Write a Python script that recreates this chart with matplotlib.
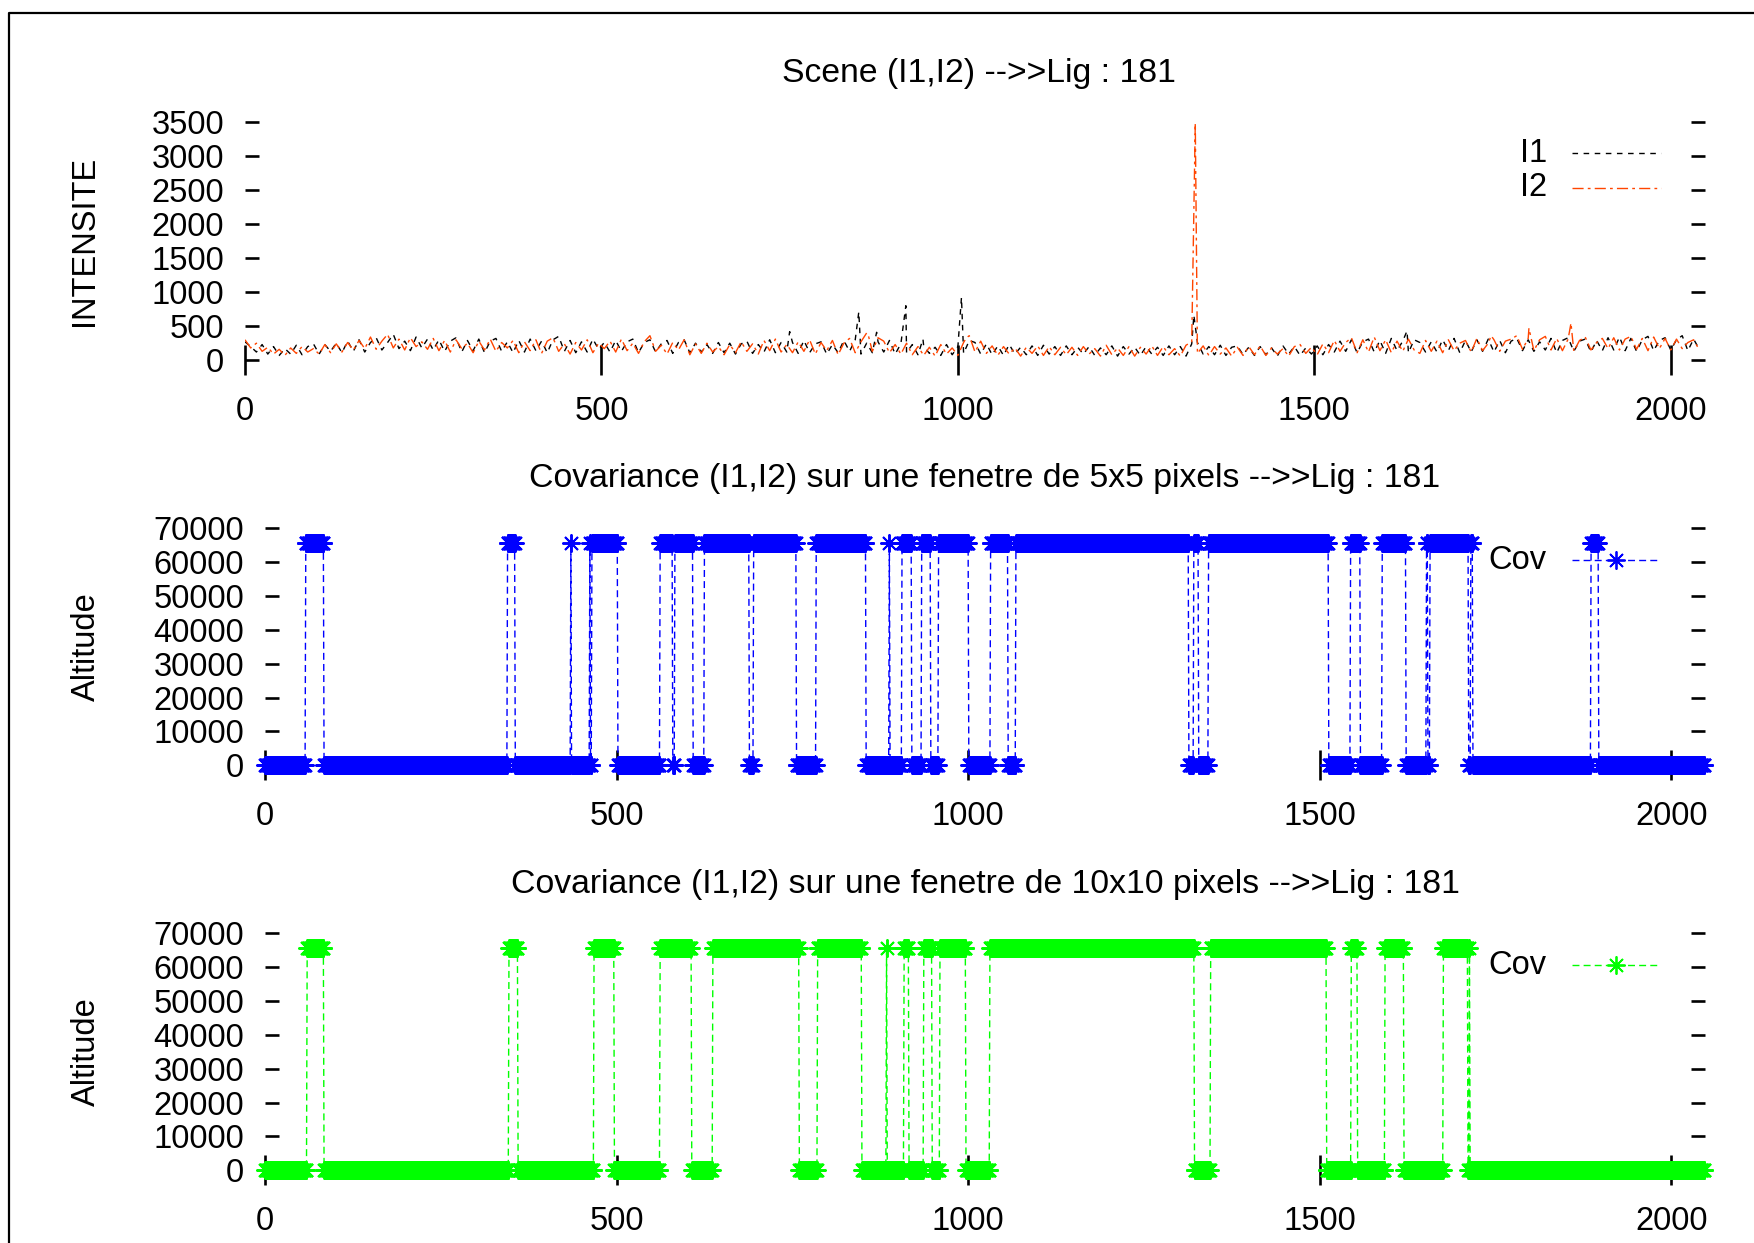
"""Scene line 181: intensity profiles and window covariance (gnuplot style)."""

import matplotlib
matplotlib.use('Agg')
import matplotlib.pyplot as plt
from matplotlib.lines import Line2D
import numpy as np

# ── Figure size in pixels (dpi 100) ──
W_PX, H_PX = 1754, 1243

# ── Data ──
# intensity profiles, one value every X_STEP columns
X_STEP = 8
I1_BASE = [
    270, 200, 120, 230, 90, 200, 70, 170, 90, 220, 80, 200, 240, 90, 230, 130,
    250, 110, 280, 130, 300, 120, 260, 330, 150, 260, 380, 170, 280, 140, 340, 180,
    310, 150, 300, 130, 280, 330, 120, 290, 140, 310, 110, 280, 320, 130, 270, 110,
    290, 120, 310, 140, 280, 110, 300, 350, 130, 290, 110, 270, 120, 310, 160, 260,
    120, 290, 130, 270, 310, 110, 260, 300, 120, 240, 290, 100, 260, 300, 110, 250,
    120, 230, 100, 260, 110, 250, 90, 240, 280, 100, 230, 120, 300, 110, 260, 120,
    260, 100, 290, 110, 240, 270, 90, 230, 110, 290, 130, 300, 90, 250, 110, 270,
    120, 290, 90, 240, 110, 230, 80, 210, 100, 190, 70, 230, 80, 200, 100, 290,
    260, 90, 240, 80, 210, 70, 230, 90, 190, 80, 210, 70, 220, 90, 200, 70,
    210, 80, 190, 90, 200, 70, 180, 80, 210, 60, 200, 90, 190, 70, 200, 90,
    190, 70, 210, 80, 200, 60, 240, 260, 90, 200, 80, 220, 70, 190, 210, 80,
    190, 70, 200, 80, 180, 60, 210, 90, 200, 70, 180, 90, 210, 80, 230, 120,
    280, 130, 300, 110, 270, 310, 120, 290, 100, 320, 140, 280, 110, 300, 260, 120,
    270, 120, 300, 140, 320, 110, 290, 120, 300, 130, 310, 120, 290, 110, 280, 320,
    140, 300, 130, 270, 150, 320, 110, 290, 330, 130, 280, 310, 120, 290, 140, 330,
    150, 340, 140, 320, 130, 300, 350, 140, 290, 330, 150, 300, 360, 140, 310, 160,
]
I2_BASE = [
    300, 180, 250, 130, 190, 90, 160, 70, 180, 100, 200, 120, 170, 90, 230, 110,
    240, 120, 260, 150, 290, 170, 340, 160, 280, 380, 180, 310, 150, 330, 200, 270,
    160, 320, 140, 290, 120, 300, 170, 250, 110, 280, 150, 310, 130, 260, 180, 290,
    110, 270, 140, 300, 100, 280, 330, 130, 240, 90, 260, 150, 300, 110, 250, 170,
    280, 120, 310, 140, 250, 100, 270, 360, 130, 220, 90, 260, 150, 300, 80, 240,
    100, 250, 120, 200, 80, 230, 110, 270, 130, 240, 90, 290, 140, 310, 120, 230,
    110, 270, 130, 300, 90, 260, 140, 290, 80, 250, 320, 110, 270, 400, 130, 330,
    280, 110, 230, 90, 250, 80, 200, 70, 190, 60, 230, 90, 180, 70, 260, 360,
    120, 280, 100, 210, 70, 200, 90, 180, 60, 190, 100, 210, 70, 200, 80, 190,
    80, 190, 70, 200, 90, 170, 60, 220, 80, 180, 70, 200, 60, 190, 90, 210,
    70, 200, 80, 170, 60, 220, 270, 100, 210, 70, 200, 90, 180, 60, 190, 70,
    200, 80, 210, 70, 180, 90, 170, 60, 200, 230, 100, 190, 80, 240, 110, 290,
    130, 260, 330, 110, 300, 120, 340, 140, 300, 110, 280, 130, 310, 150, 100, 290,
    130, 280, 110, 300, 140, 250, 290, 120, 320, 140, 250, 300, 130, 280, 310, 360,
    160, 320, 140, 300, 350, 150, 320, 140, 310, 130, 290, 340, 150, 260, 320, 170,
    330, 150, 310, 350, 160, 320, 140, 340, 170, 320, 150, 310, 170, 260, 300, 150,
]
# isolated peaks (column, value)
I1_PEAK_X = [764, 861, 886, 927, 951, 1005, 1331, 1630]
I1_PEAK_V = [420, 710, 410, 800, 310, 920, 660, 430]
I2_PEAK_X = [874, 1012, 1333, 1748, 1801, 1860]
I2_PEAK_V = [380, 330, 3480, 360, 470, 545]

# covariance: columns where the value is high (start, end), 0 elsewhere
N_COLS = 2048
COV_HIGH = 65535
COV5_HIGH = [(58, 84), (345, 356), (435, 436), (462, 463), (465, 502),
             (562, 580), (583, 609), (625, 689), (695, 756), (784, 855),
             (888, 889), (906, 920), (934, 947), (958, 1001), (1032, 1057),
             (1068, 1314), (1321, 1328), (1342, 1513), (1544, 1558),
             (1589, 1623), (1652, 1654), (1657, 1712), (1715, 1718),
             (1886, 1897)]
COV10_HIGH = [(60, 84), (347, 360), (468, 497), (562, 607), (637, 760),
              (786, 849), (884, 885), (909, 916), (937, 949), (960, 997),
              (1031, 1322), (1345, 1510), (1545, 1554), (1593, 1620),
              (1676, 1711), (1713, 1714)]

TITLE_1 = 'Scene (I1,I2) -->>Lig : 181'
TITLE_2 = 'Covariance (I1,I2) sur une fenetre de 5x5 pixels -->>Lig : 181'
TITLE_3 = 'Covariance (I1,I2) sur une fenetre de 10x10 pixels -->>Lig : 181'

# ── Style ──
I1_COLOR = '#000000'
I2_COLOR = '#FF4500'
COV5_COLOR = '#0000FF'
COV10_COLOR = '#00FF00'
STAR = (8, 2, 0)
FS = 23.5
FS_TITLE = 24.3
MS = 13

plt.rcParams.update({
    'font.family': ['Liberation Sans', 'DejaVu Sans'],
    'font.size': FS,
})


def fx(px):
    return px / W_PX


def fy(py):
    return 1 - py / H_PX


def axes_at(fig, left, right, y0, y1, v1, ylo, yhi):
    """Place axes so that data value 0 sits at pixel row y0 and v1 at y1."""
    scale = (y0 - y1) / v1
    bottom_px = y0 + (-ylo) * scale
    top_px = y0 - yhi * scale
    ax = fig.add_axes([fx(left), fy(bottom_px), fx(right) - fx(left),
                       (bottom_px - top_px) / H_PX])
    ax.set_ylim(ylo, yhi)
    ax.set_xlim(0, N_COLS)
    for s in ax.spines.values():
        s.set_visible(False)
    ax.spines['bottom'].set_position(('data', 0))
    ax.set_xticks([0, 500, 1000, 1500, 2000])
    ax.tick_params(axis='x', direction='inout', length=21, width=1.9, pad=15,
                   labelsize=FS, top=False)
    ax.tick_params(axis='y', direction='in', length=10, width=1.9, pad=15,
                   labelsize=FS, right=True)
    ax.patch.set_alpha(0)
    return ax


def cov_series(intervals):
    cols = np.arange(N_COLS)
    vals = np.zeros(N_COLS)
    for a, b in intervals:
        vals[(cols >= a) & (cols < b)] = COV_HIGH
    return cols, vals


def legend_entry(fig, label, y, x0, x1, color, dashes, star=False):
    fig.text(fx(1547), fy(y), label, ha='right', va='center', fontsize=FS)
    fig.add_artist(Line2D([fx(x0), fx(x1)], [fy(y), fy(y)], color=color,
                          lw=1, dashes=dashes, transform=fig.transFigure))
    if star:
        fig.add_artist(Line2D([fx((x0 + x1) / 2)], [fy(y)], color=color,
                              marker=STAR, ms=MS, mew=1.3, lw=0,
                              transform=fig.transFigure))


def main():
    fig = plt.figure(figsize=(W_PX / 100, H_PX / 100), dpi=100)

    # outer frame (cut at the right and bottom edges)
    fig.add_artist(Line2D([fx(9), fx(9), fx(W_PX + 5)], [fy(H_PX + 5), fy(13), fy(13)],
                          color='black', lw=1.6, transform=fig.transFigure))

    # ── Panel 1: intensities ──
    ax = axes_at(fig, 245, 1705, 360.2, 121.9, 3500, -250, 3600)
    ax.set_yticks(np.arange(0, 3501, 500))
    base_x = np.arange(len(I1_BASE)) * X_STEP
    for base, px, pv, color, dashes in [
            (I1_BASE, I1_PEAK_X, I1_PEAK_V, I1_COLOR, (4, 4)),
            (I2_BASE, I2_PEAK_X, I2_PEAK_V, I2_COLOR, (8, 3, 2, 3))]:
        xs = np.concatenate([base_x, px])
        ys = np.concatenate([base, pv])
        order = np.argsort(xs, kind='stable')
        ax.plot(xs[order], ys[order], color=color, lw=1, dashes=dashes)
    fig.text(fx(979), fy(73.5), TITLE_1, ha='center', va='center', fontsize=FS_TITLE)
    fig.text(fx(84), fy(240.5), 'INTENSITE', ha='center', va='center',
             rotation=90, fontsize=FS)
    legend_entry(fig, 'I1', 153, 1572, 1661, I1_COLOR, (4, 4))
    legend_entry(fig, 'I2', 188, 1572, 1661, I2_COLOR, (8, 3, 2, 3))

    # ── Panels 2 and 3: covariance ──
    panels = [
        (COV5_HIGH, COV5_COLOR, 765.2, 528.3, TITLE_2, 479.0, 646.5, 560.4),
        (COV10_HIGH, COV10_COLOR, 1170.2, 933.3, TITLE_3, 885.0, 1051.5, 965.3),
    ]
    for intervals, color, y0, y1, title, ty, ly, leg_y in panels:
        ax = axes_at(fig, 265, 1705, y0, y1, 70000, -6000, 72000)
        ax.set_yticks(np.arange(0, 70001, 10000))
        cols, vals = cov_series(intervals)
        ax.plot(cols, vals, color=color, lw=1, dashes=(5, 3), marker=STAR,
                ms=MS, mew=1.4, clip_on=False)
        fig.text(fx(985), fy(ty), title, ha='center', va='center', fontsize=FS_TITLE)
        fig.text(fx(86), fy(ly), 'Altitude', ha='center', va='center',
                 rotation=90, fontsize=FS)
        legend_entry(fig, 'Cov', leg_y, 1572, 1660, color, (5, 3), star=True)

    fig.savefig('out.png', dpi=100)
    plt.close(fig)


if __name__ == '__main__':
    main()
